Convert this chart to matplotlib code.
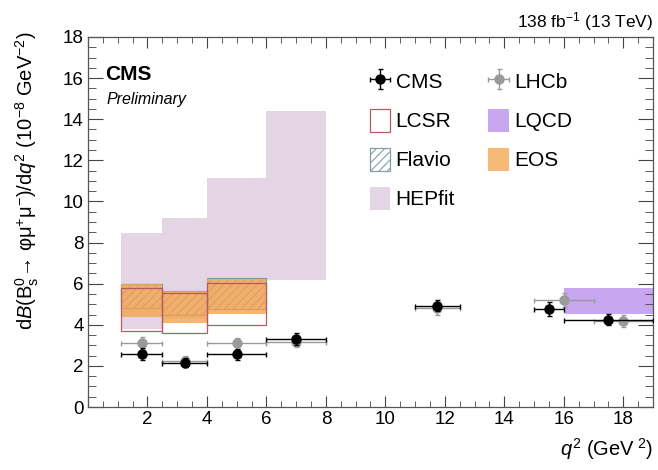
import matplotlib
matplotlib.use("Agg")
import matplotlib.pyplot as plt
from matplotlib.patches import Rectangle, Patch
from matplotlib.ticker import MultipleLocator

plt.rcParams["font.family"] = ["Liberation Sans", "DejaVu Sans"]
plt.rcParams["mathtext.fontset"] = "custom"
plt.rcParams["mathtext.rm"] = "Liberation Sans"
plt.rcParams["mathtext.it"] = "Liberation Sans:italic"
plt.rcParams["mathtext.bf"] = "Liberation Sans:bold"
plt.rcParams["hatch.linewidth"] = 0.8

# ---- measurements ----------------------------------------------------------
cms_x = [1.8, 3.25, 5.0, 7.0, 11.75, 15.5, 17.5]
cms_lo = [1.1, 2.5, 4.0, 6.0, 11.0, 15.0, 16.0]
cms_hi = [2.5, 4.0, 6.0, 8.0, 12.5, 16.0, 19.0]
cms_y = [2.58, 2.16, 2.56, 3.32, 4.93, 4.77, 4.25]
cms_err = [0.30, 0.22, 0.25, 0.28, 0.28, 0.33, 0.28]

lhcb_x = [1.8, 3.25, 5.0, 7.0, 11.75, 16.0, 18.0]
lhcb_lo = [1.1, 2.5, 4.0, 6.0, 11.0, 15.0, 17.0]
lhcb_hi = [2.5, 4.0, 6.0, 8.0, 12.5, 17.0, 19.0]
lhcb_y = [3.13, 2.25, 3.10, 3.18, 4.80, 5.20, 4.18]
lhcb_err = [0.30, 0.22, 0.26, 0.28, 0.30, 0.35, 0.30]

# ---- theory predictions -------------------------------------------------------
th_lo = [1.1, 2.5, 4.0]
th_hi = [2.5, 4.0, 6.0]
lcsr_min = [3.70, 3.58, 3.99]
lcsr_max = [5.77, 5.53, 6.02]
flavio_min = [4.80, 4.50, 4.75]
flavio_max = [6.00, 5.66, 6.26]
eos_min = [4.36, 4.07, 4.52]
eos_max = [5.97, 5.63, 6.22]

hep_lo = [1.1, 2.5, 4.0, 6.0]
hep_hi = [2.5, 4.0, 6.0, 8.0]
hep_min = [3.78, 4.30, 4.70, 6.20]
hep_max = [8.45, 9.20, 11.15, 14.40]

lqcd_lo, lqcd_hi = [16.0], [19.0]
lqcd_min, lqcd_max = [4.52], [5.80]

HEP = "#e4d5e4"
LQCD = "#c9a6f0"
EOS = "#f4a24a"
LCSR = "#b85a66"
FLAV = "#7f9ea6"

fig = plt.figure(figsize=(6.58, 4.70), dpi=100)
ax = fig.add_axes([0.1337, 0.134, 0.8587, 0.7873])

for a, b, lo, hi in zip(hep_lo, hep_hi, hep_min, hep_max):
    ax.add_patch(Rectangle((a, lo), b - a, hi - lo, facecolor=HEP, edgecolor="none", zorder=1))
for a, b, lo, hi in zip(lqcd_lo, lqcd_hi, lqcd_min, lqcd_max):
    ax.add_patch(Rectangle((a, lo), b - a, hi - lo, facecolor=LQCD, edgecolor="none", zorder=1))
for a, b, lo, hi in zip(th_lo, th_hi, flavio_min, flavio_max):
    ax.add_patch(Rectangle((a, lo), b - a, hi - lo, facecolor="none", edgecolor=FLAV,
                           hatch="////", lw=0.9, zorder=2))
for a, b, lo, hi in zip(th_lo, th_hi, eos_min, eos_max):
    ax.add_patch(Rectangle((a, lo), b - a, hi - lo, facecolor=EOS, edgecolor="none",
                           alpha=0.78, zorder=3))
for a, b, lo, hi in zip(th_lo, th_hi, lcsr_min, lcsr_max):
    ax.add_patch(Rectangle((a, lo), b - a, hi - lo, facecolor="none", edgecolor=LCSR,
                           lw=0.9, zorder=4))

xe_l = [[x - l for x, l in zip(lhcb_x, lhcb_lo)], [h - x for x, h in zip(lhcb_x, lhcb_hi)]]
h_lhcb = ax.errorbar(lhcb_x, lhcb_y, xerr=xe_l, yerr=lhcb_err, fmt="o", color="#9a9a9a",
                     ms=6.5, lw=1.0, capsize=1.8, zorder=5)
xe_c = [[x - l for x, l in zip(cms_x, cms_lo)], [h - x for x, h in zip(cms_x, cms_hi)]]
h_cms = ax.errorbar(cms_x, cms_y, xerr=xe_c, yerr=cms_err, fmt="o", color="black",
                    ms=6.5, lw=1.0, capsize=1.8, zorder=6)

ax.set_xlim(0, 19)
ax.set_ylim(0, 18)
ax.xaxis.set_major_locator(MultipleLocator(2))
ax.xaxis.set_minor_locator(MultipleLocator(0.5))
ax.yaxis.set_major_locator(MultipleLocator(2))
ax.yaxis.set_minor_locator(MultipleLocator(0.5))
ax.tick_params(which="both", direction="in", top=True, right=True, color="#444444",
               labelsize=13.5, pad=3)
ax.tick_params(axis="x", which="major", length=8)
ax.tick_params(axis="x", which="minor", length=4)
ax.tick_params(axis="y", which="major", length=11)
ax.tick_params(axis="y", which="minor", length=5.5)
ax.xaxis.set_major_formatter(plt.FuncFormatter(lambda v, p: "" if v == 0 else f"{v:.0f}"))
for s in ax.spines.values():
    s.set_color("#555555")
    s.set_linewidth(0.9)

ax.set_ylabel(r"d$\mathit{B}$(B$_{\rm s}^{0}$" + "\u2192 \u03c6\u03bc" + r"$^{+}$" + "\u03bc"
              + r"$^{-}$)/d$\mathit{q}^{2}$ (10$^{-8}$ GeV$^{-2}$)",
              fontsize=14.5, loc="top")
ax.yaxis.set_label_coords(-0.083, 1.015)
ax.set_xlabel(r"$\mathit{q}^{2}$ (GeV$^{\ 2}$)", fontsize=14.5, loc="right", labelpad=6)

ax.text(0.03, 0.885, "CMS", transform=ax.transAxes, fontsize=15, fontweight="bold")
ax.text(0.033, 0.818, "Preliminary", transform=ax.transAxes, fontsize=11.5, style="italic")
ax.text(1.0, 1.025, r"138 fb$^{-1}$ (13 TeV)", transform=ax.transAxes, fontsize=12.5, ha="right")

h_lcsr = Patch(facecolor="white", edgecolor=LCSR, lw=0.9)
h_flav = Patch(facecolor="white", edgecolor=FLAV, hatch="////", lw=0.9)
h_hep = Patch(facecolor=HEP, edgecolor="none")
h_lqcd = Patch(facecolor=LQCD, edgecolor="none")
h_eos = Patch(facecolor=EOS, edgecolor="none", alpha=0.75)
handles = [h_cms, h_lcsr, h_flav, h_hep, h_lhcb, h_lqcd, h_eos]
labels = ["CMS", "LCSR", "Flavio", "HEPfit", "LHCb", "LQCD", "EOS"]
ax.legend(handles, labels, ncol=2, loc="upper left", bbox_to_anchor=(0.48, 0.94),
          frameon=False, fontsize=15, handlelength=1.0, handleheight=1.35,
          handletextpad=0.25, labelspacing=0.75, columnspacing=1.6, borderpad=0)

fig.savefig("out.png", dpi=100)
